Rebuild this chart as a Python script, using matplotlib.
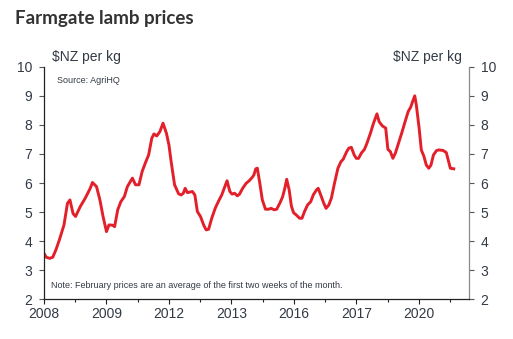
import matplotlib
matplotlib.use("Agg")
import matplotlib.pyplot as plt
from matplotlib.ticker import MultipleLocator

# decimal year, price ($NZ per kg)
years = [
    2008.00, 2008.07, 2008.18, 2008.28, 2008.38, 2008.49, 2008.64, 2008.75, 2008.83, 2008.93,
    2009.01, 2009.16, 2009.32, 2009.48, 2009.55, 2009.68, 2009.79, 2009.89, 2010.00, 2010.08,
    2010.20, 2010.26, 2010.36, 2010.46, 2010.57, 2010.67, 2010.83, 2010.93, 2011.04, 2011.14,
    2011.24, 2011.35, 2011.45, 2011.52, 2011.61, 2011.71, 2011.81, 2011.92, 2012.00, 2012.07,
    2012.18, 2012.31, 2012.39, 2012.46, 2012.52, 2012.59, 2012.75, 2012.83, 2012.91, 2013.01,
    2013.11, 2013.19, 2013.27, 2013.37, 2013.48, 2013.58, 2013.69, 2013.79, 2013.86, 2013.95,
    2014.02, 2014.10, 2014.19, 2014.26, 2014.36, 2014.47, 2014.57, 2014.67, 2014.72, 2014.78,
    2014.83, 2014.91, 2014.99, 2015.09, 2015.19, 2015.27, 2015.37, 2015.45, 2015.56, 2015.64,
    2015.71, 2015.77, 2015.85, 2015.92, 2015.99, 2016.08, 2016.18, 2016.26, 2016.34, 2016.44,
    2016.54, 2016.62, 2016.72, 2016.78, 2016.86, 2016.96, 2017.03, 2017.12, 2017.20, 2017.30,
    2017.41, 2017.51, 2017.58, 2017.69, 2017.76, 2017.84, 2017.93, 2018.00, 2018.07, 2018.16,
    2018.26, 2018.34, 2018.45, 2018.55, 2018.66, 2018.73, 2018.83, 2018.94, 2019.01, 2019.09,
    2019.17, 2019.25, 2019.35, 2019.45, 2019.56, 2019.66, 2019.74, 2019.80, 2019.87, 2019.92,
    2020.01, 2020.08, 2020.16, 2020.24, 2020.32, 2020.39, 2020.47, 2020.57, 2020.65, 2020.78,
    2020.88, 2020.94, 2021.01, 2021.12,
]
prices = [
    3.58, 3.45, 3.41, 3.45, 3.70, 4.04, 4.56, 5.30, 5.42, 4.95,
    4.85, 5.19, 5.48, 5.82, 6.02, 5.88, 5.42, 4.85, 4.33, 4.56,
    4.55, 4.50, 5.08, 5.36, 5.53, 5.88, 6.17, 5.94, 5.94, 6.39,
    6.68, 6.97, 7.54, 7.69, 7.62, 7.77, 8.06, 7.71, 7.31, 6.74,
    5.94, 5.63, 5.59, 5.65, 5.82, 5.67, 5.71, 5.59, 5.02, 4.85,
    4.56, 4.39, 4.41, 4.79, 5.13, 5.36, 5.59, 5.88, 6.08, 5.71,
    5.62, 5.65, 5.56, 5.62, 5.82, 5.99, 6.08, 6.20, 6.28, 6.49,
    6.51, 5.99, 5.42, 5.10, 5.10, 5.13, 5.08, 5.10, 5.33, 5.53,
    5.82, 6.13, 5.76, 5.21, 4.98, 4.90, 4.79, 4.79, 5.02, 5.25,
    5.36, 5.59, 5.76, 5.82, 5.59, 5.30, 5.13, 5.25, 5.48, 5.99,
    6.51, 6.74, 6.82, 7.08, 7.20, 7.23, 6.97, 6.85, 6.85, 7.03,
    7.16, 7.37, 7.71, 8.06, 8.38, 8.11, 7.97, 7.89, 7.16, 7.08,
    6.85, 7.03, 7.37, 7.71, 8.11, 8.46, 8.61, 8.80, 9.00, 8.69,
    7.89, 7.14, 6.93, 6.62, 6.51, 6.62, 6.97, 7.12, 7.14, 7.12,
    7.05, 6.80, 6.51, 6.49,
]

tick_years = [2008, 2010, 2012, 2014, 2016, 2018, 2020]
tick_labels = ["2008", "2009", "2012", "2013", "2016", "2017", "2020"]

TEXT = "#333a45"
RED = "#e3202a"

plt.rcParams["font.family"] = ["Liberation Sans", "DejaVu Sans"]

fig = plt.figure(figsize=(5.13, 3.39), dpi=100)
ax = fig.add_axes([0.0858, 0.117, 0.828, 0.686])

ax.plot(years, prices, color=RED, linewidth=2.1, solid_joinstyle="round")

ax.set_xlim(2008, 2021.6)
ax.set_ylim(2, 10)
ax.set_yticks(range(2, 11))
ax.set_xticks(tick_years)
ax.set_xticklabels(tick_labels)
ax.xaxis.set_minor_locator(MultipleLocator(1))

ax.spines["top"].set_visible(False)
ax.spines["left"].set_color("#222222")
ax.spines["bottom"].set_color("#222222")
ax.spines["right"].set_color("#8a8a8a")
for side in ("left", "bottom", "right"):
    ax.spines[side].set_linewidth(0.9)

ax.tick_params(axis="y", which="both", left=True, right=True, labelleft=True, labelright=True,
               length=3.5, width=0.8, color="#555555", labelsize=10, labelcolor=TEXT, pad=5)
ax.tick_params(axis="x", which="major", length=3.5, width=0.8, color="#222222",
               labelsize=10, labelcolor=TEXT, pad=2)
ax.tick_params(axis="x", which="minor", length=2.5, width=0.8, color="#222222")

fig.text(0.029, 0.945, "Farmgate lamb prices", fontsize=13.5, fontweight="bold",
         color="#333333", family=["Lato", "DejaVu Sans"], va="center")
fig.text(0.101, 0.832, "$NZ per kg", fontsize=10, color=TEXT, va="center")
fig.text(0.901, 0.832, "$NZ per kg", fontsize=10, color=TEXT, va="center", ha="right")
ax.text(0.03, 0.94, "Source: AgriHQ", transform=ax.transAxes, fontsize=6.5, color=TEXT, va="center")
ax.text(0.016, 0.06, "Note: February prices are an average of the first two weeks of the month.",
        transform=ax.transAxes, fontsize=6.5, color=TEXT, va="center")

fig.savefig("out.png", dpi=100)
